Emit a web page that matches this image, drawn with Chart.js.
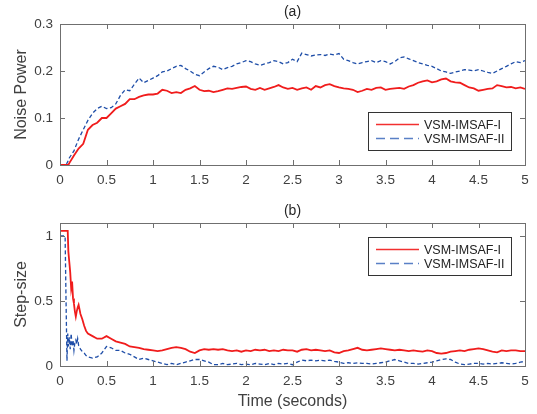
<!DOCTYPE html>
<html>
<head>
<meta charset="utf-8">
<script src="https://cdn.jsdelivr.net/npm/chart.js@4.4.1/dist/chart.umd.min.js"></script>
<style>
html, body { margin: 0; padding: 0; background: #fff; }
#wrap { position: relative; width: 537px; height: 414px; }
.panel { position: absolute; left: 0; width: 537px; }
</style>
</head>
<body>
<div id="wrap">
  <div class="panel" style="top:0;height:200px"><canvas id="chart-noise"></canvas></div>
  <div class="panel" style="top:200px;height:214px"><canvas id="chart-step"></canvas></div>
</div>
<script>
// values
var seriesNames = ['VSM-IMSAF-I', 'VSM-IMSAF-II'];
var timeTicks = [0, 0.5, 1, 1.5, 2, 2.5, 3, 3.5, 4, 4.5, 5];
var noiseTicks = [0, 0.1, 0.2, 0.3];
var stepTicks = [0, 0.5, 1];

// (a) noise power
var timeA = [0, 0.05, 0.07, 0.09, 0.1, 0.15, 0.2, 0.25, 0.3, 0.35, 0.4, 0.45, 0.5, 0.55, 0.6, 0.65, 0.7, 0.75, 0.8, 0.85, 0.9, 0.95,
  1, 1.05, 1.1, 1.15, 1.2, 1.25, 1.3, 1.35, 1.4, 1.45, 1.5, 1.55, 1.6, 1.65, 1.7, 1.75, 1.8, 1.85, 1.9, 1.95,
  2, 2.05, 2.1, 2.15, 2.2, 2.25, 2.3, 2.35, 2.4, 2.45, 2.5, 2.55, 2.6, 2.65, 2.7, 2.75, 2.8, 2.85, 2.9, 2.95,
  3, 3.05, 3.1, 3.15, 3.2, 3.25, 3.3, 3.35, 3.4, 3.45, 3.5, 3.55, 3.6, 3.65, 3.7, 3.75, 3.8, 3.85, 3.9, 3.95,
  4, 4.05, 4.1, 4.15, 4.2, 4.25, 4.3, 4.35, 4.4, 4.45, 4.5, 4.55, 4.6, 4.65, 4.7, 4.75, 4.8, 4.85, 4.9, 4.95, 5];
var noiseI = [0, 0, 0, 0, 0.004, 0.02, 0.035, 0.045, 0.075, 0.085, 0.09, 0.1, 0.1, 0.11, 0.12, 0.125, 0.13, 0.14, 0.14, 0.145, 0.148, 0.15,
  0.15, 0.152, 0.16, 0.158, 0.153, 0.155, 0.153, 0.16, 0.163, 0.168, 0.16, 0.157, 0.158, 0.155, 0.157, 0.16, 0.163, 0.162, 0.164, 0.166,
  0.167, 0.162, 0.16, 0.164, 0.16, 0.163, 0.166, 0.17, 0.165, 0.162, 0.164, 0.16, 0.163, 0.165, 0.16, 0.168, 0.165, 0.17, 0.172, 0.168,
  0.165, 0.163, 0.162, 0.16, 0.155, 0.158, 0.162, 0.16, 0.164, 0.165, 0.16, 0.162, 0.163, 0.164, 0.162, 0.167, 0.17, 0.175, 0.178, 0.18,
  0.176, 0.178, 0.182, 0.184, 0.178, 0.176, 0.175, 0.17, 0.165, 0.163, 0.158, 0.16, 0.162, 0.163, 0.17, 0.168, 0.165, 0.166, 0.163, 0.165, 0.162];
var noiseII = [0, 0, 0.002, 0.01, 0.015, 0.03, 0.055, 0.075, 0.095, 0.11, 0.12, 0.125, 0.12, 0.122, 0.13, 0.148, 0.16, 0.158, 0.172, 0.185, 0.175, 0.18,
  0.185, 0.19, 0.198, 0.2, 0.205, 0.21, 0.212, 0.205, 0.2, 0.193, 0.19, 0.198, 0.205, 0.21, 0.208, 0.203, 0.207, 0.21, 0.215, 0.218,
  0.222, 0.22, 0.215, 0.212, 0.215, 0.218, 0.222, 0.22, 0.215, 0.218, 0.225, 0.22, 0.238, 0.235, 0.232, 0.234, 0.235, 0.233, 0.236, 0.234,
  0.237, 0.225, 0.222, 0.218, 0.215, 0.218, 0.22, 0.222, 0.218, 0.222, 0.22, 0.215, 0.22, 0.228, 0.23, 0.226, 0.222, 0.218, 0.215, 0.212,
  0.21, 0.205, 0.2, 0.198, 0.195, 0.198, 0.2, 0.203, 0.202, 0.2, 0.203, 0.2, 0.197, 0.195, 0.2, 0.205, 0.21, 0.215, 0.22, 0.218, 0.222];

// (b) step-size
var timeB = [0, 0.0001, 0.02, 0.04, 0.055, 0.065, 0.075, 0.083, 0.09, 0.1, 0.11, 0.12, 0.13, 0.14, 0.15, 0.16, 0.17, 0.18, 0.19, 0.2,
  0.22, 0.24, 0.26, 0.28, 0.3, 0.35, 0.4, 0.45, 0.5, 0.55, 0.6, 0.65, 0.7, 0.75, 0.8, 0.85, 0.9, 0.95,
  1, 1.05, 1.1, 1.15, 1.2, 1.25, 1.3, 1.35, 1.4, 1.45, 1.5, 1.55, 1.6, 1.65, 1.7, 1.75, 1.8, 1.85, 1.9, 1.95,
  2, 2.05, 2.1, 2.15, 2.2, 2.25, 2.3, 2.35, 2.4, 2.45, 2.5, 2.55, 2.6, 2.65, 2.7, 2.75, 2.8, 2.85, 2.9, 2.95,
  3, 3.05, 3.1, 3.15, 3.2, 3.25, 3.3, 3.35, 3.4, 3.45, 3.5, 3.55, 3.6, 3.65, 3.7, 3.75, 3.8, 3.85, 3.9, 3.95,
  4, 4.05, 4.1, 4.15, 4.2, 4.25, 4.3, 4.35, 4.4, 4.45, 4.5, 4.55, 4.6, 4.65, 4.7, 4.75, 4.8, 4.85, 4.9, 4.95, 5];
var stepI = [0, 1.04, 1.04, 1.04, 1.04, 1.04, 1.04, 1.04, 0.88, 0.8, 0.72, 0.6, 0.65, 0.52, 0.48, 0.42, 0.38, 0.42, 0.45, 0.47,
  0.4, 0.36, 0.31, 0.27, 0.25, 0.23, 0.21, 0.21, 0.23, 0.21, 0.19, 0.18, 0.17, 0.15, 0.145, 0.14, 0.13, 0.125,
  0.12, 0.115, 0.12, 0.13, 0.14, 0.145, 0.14, 0.13, 0.11, 0.1, 0.12, 0.13, 0.125, 0.13, 0.125, 0.13, 0.12, 0.115, 0.12, 0.11,
  0.12, 0.115, 0.125, 0.12, 0.125, 0.115, 0.12, 0.115, 0.125, 0.12, 0.12, 0.11, 0.125, 0.13, 0.12, 0.125, 0.12, 0.115, 0.12, 0.105,
  0.1, 0.115, 0.12, 0.13, 0.14, 0.125, 0.12, 0.125, 0.13, 0.135, 0.13, 0.125, 0.12, 0.125, 0.12, 0.115, 0.12, 0.115, 0.11, 0.12,
  0.115, 0.1, 0.095, 0.1, 0.11, 0.115, 0.12, 0.115, 0.125, 0.13, 0.135, 0.13, 0.12, 0.11, 0.105, 0.12, 0.115, 0.12, 0.12, 0.115, 0.115];
var stepII = [1, 1, 1, 1, 1, 0.5, 0.04, 0.25, 0.15, 0.22, 0.13, 0.25, 0.15, 0.2, 0.12, 0.18, 0.2, 0.17, 0.21, 0.16,
  0.13, 0.11, 0.1, 0.08, 0.07, 0.06, 0.07, 0.1, 0.15, 0.14, 0.12, 0.12, 0.1, 0.09, 0.07, 0.05, 0.06, 0.05,
  0.04, 0.03, 0.02, 0.01, 0.02, 0.01, 0.02, 0.03, 0.04, 0.05, 0.05, 0.04, 0.03, 0.01, 0.01, 0.02, 0.01, 0.015, 0.02, 0.01,
  0.015, 0.01, 0.02, 0.015, 0.01, 0.02, 0.01, 0.02, 0.015, 0.02, 0.01, 0.03, 0.045, 0.04, 0.045, 0.04, 0.045, 0.04, 0.045, 0.035,
  0.03, 0.02, 0.025, 0.02, 0.025, 0.02, 0.02, 0.015, 0.02, 0.025, 0.03, 0.04, 0.05, 0.04, 0.03, 0.02, 0.02, 0.015, 0.02, 0.025,
  0.03, 0.04, 0.05, 0.055, 0.05, 0.03, 0.015, 0.01, 0.015, 0.02, 0.02, 0.015, 0.02, 0.015, 0.02, 0.025, 0.02, 0.015, 0.02, 0.03, 0.035];

var RED = '#f01c1c';
var BLUE = '#1f4ea8';
var FONT = "'Liberation Sans', Arial, sans-serif";

function pairs(xs, ys) {
  return xs.map(function (x, i) { return { x: x, y: ys[i] }; });
}

// MATLAB-like box with inward ticks on all four sides, plus the "(a)" title
var matlabBox = {
  id: 'matlabBox',
  afterDatasetsDraw: function (chart, args, opts) {
    var a = chart.chartArea, c = chart.ctx;
    var sx = chart.scales.x, sy = chart.scales.y;
    c.save();
    c.strokeStyle = '#6f6f6f';
    c.lineWidth = 1;
    c.beginPath();
    sx.ticks.forEach(function (t) {
      var px = Math.round(sx.getPixelForValue(t.value)) + 0.5;
      c.moveTo(px, a.bottom); c.lineTo(px, a.bottom - 5);
      c.moveTo(px, a.top); c.lineTo(px, a.top + 5);
    });
    sy.ticks.forEach(function (t) {
      var py = Math.round(sy.getPixelForValue(t.value)) + 0.5;
      c.moveTo(a.left, py); c.lineTo(a.left + 5, py);
      c.moveTo(a.right, py); c.lineTo(a.right - 5, py);
    });
    c.stroke();
    c.strokeRect(Math.round(a.left) + 0.5, Math.round(a.top) + 0.5, Math.round(a.right - a.left), Math.round(a.bottom - a.top));
    c.fillStyle = '#262626';
    c.font = '14px ' + FONT;
    c.textAlign = 'center';
    c.textBaseline = 'middle';
    c.fillText(opts.title, (a.left + a.right) / 2, a.top - 12);
    c.restore();
  }
};

// boxed legend placed inside the axes
var boxLegend = {
  id: 'boxLegend',
  afterDraw: function (chart, args, opts) {
    var a = chart.chartArea, c = chart.ctx;
    var w = 143, h = 38;
    var x0 = Math.round(a.right - 14 - w);
    var y0 = Math.round(opts.anchor === 'bottom' ? a.bottom - 15 - h : a.top + 14);
    c.save();
    c.setLineDash([]);
    c.fillStyle = '#fff';
    c.fillRect(x0, y0, w, h);
    c.strokeStyle = '#333';
    c.lineWidth = 1;
    c.strokeRect(x0 + 0.5, y0 + 0.5, w, h);
    c.font = '12.5px ' + FONT;
    c.textAlign = 'left';
    c.textBaseline = 'middle';
    chart.data.datasets.forEach(function (ds, i) {
      var yy = y0 + 12.5 + i * 14;
      c.beginPath();
      c.strokeStyle = i === 0 ? '#f23030' : '#5a80c6';
      c.lineWidth = 1.4;
      c.setLineDash(i === 0 ? [] : [9, 5]);
      c.moveTo(x0 + 8, yy);
      c.lineTo(x0 + 51, yy);
      c.stroke();
      c.setLineDash([]);
      c.fillStyle = '#222';
      c.fillText(seriesNames[i], x0 + 56, yy + 1);
    });
    c.restore();
  }
};

function makeChart(id, tx, s1, s2, yMax, yTicks, yTitle, panel) {
  var withXTitle = panel === 'b';
  return new Chart(document.getElementById(id), {
    type: 'line',
    data: {
      datasets: [
        { label: seriesNames[0], data: pairs(tx, s1), borderColor: RED, borderWidth: 1.8, pointRadius: 0, tension: 0 },
        { label: seriesNames[1], data: pairs(tx, s2), borderColor: BLUE, borderWidth: 1.3, borderDash: [4, 2.5], pointRadius: 0, tension: 0 }
      ]
    },
    options: {
      responsive: true,
      maintainAspectRatio: false,
      animation: false,
      layout: { padding: { left: 0, right: 12, top: panel === 'a' ? 24 : 23, bottom: 0 } },
      plugins: {
        legend: { display: false },
        tooltip: { enabled: false },
        matlabBox: { title: '(' + panel + ')' },
        boxLegend: { anchor: panel === 'a' ? 'bottom' : 'top' }
      },
      scales: {
        x: {
          type: 'linear', min: 0, max: 5,
          grid: { display: false, drawTicks: false },
          border: { display: false },
          afterBuildTicks: function (s) { s.ticks = timeTicks.map(function (v) { return { value: v }; }); },
          afterFit: function (s) { s.height = withXTitle ? 48 : 35; },
          ticks: { padding: 7, color: '#404040', font: { family: FONT, size: 13.5 }, maxRotation: 0, callback: function (v) { return String(v); } },
          title: { display: withXTitle, text: 'Time (seconds)', color: '#404040', font: { family: FONT, size: 16 }, padding: { top: 0, bottom: 3 } }
        },
        y: {
          min: 0, max: yMax,
          grid: { display: false, drawTicks: false },
          border: { display: false },
          afterBuildTicks: function (s) { s.ticks = yTicks.map(function (v) { return { value: v }; }); },
          afterFit: function (s) { s.width = 60; },
          ticks: { padding: 7, color: '#404040', font: { family: FONT, size: 13.5 }, callback: function (v) { return String(v); } },
          title: { display: true, text: yTitle, color: '#404040', font: { family: FONT, size: 16 }, padding: { top: 12, bottom: 0 } }
        }
      }
    },
    plugins: [matlabBox, boxLegend]
  });
}

makeChart('chart-noise', timeA, noiseI, noiseII, 0.3, noiseTicks, 'Noise Power', 'a');
makeChart('chart-step', timeB, stepI, stepII, 1.1, stepTicks, 'Step-size', 'b');
</script>
</body>
</html>
